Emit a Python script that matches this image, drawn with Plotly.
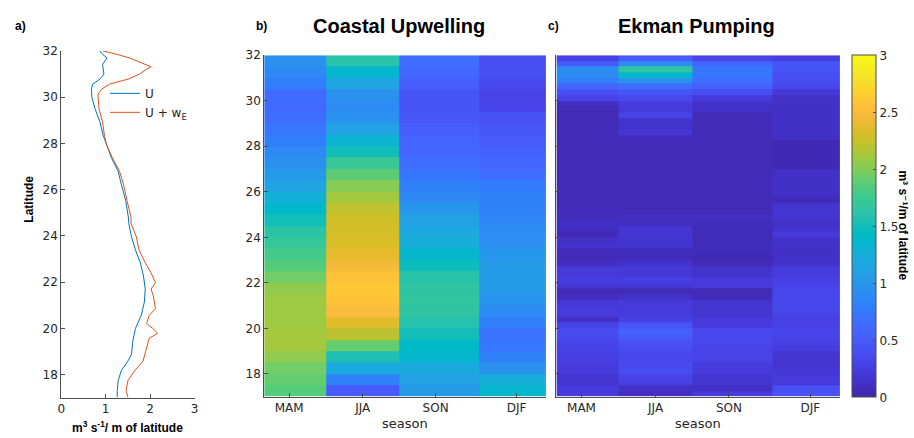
import plotly.graph_objects as go

# ---------------- data ----------------
seasons = ["MAM", "JJA", "SON", "DJF"]

# Panel a: annual mean transports
lat_u = [17.03, 17.31, 17.74, 18.17, 18.59, 18.87, 19.45, 20.00, 20.57, 21.14, 21.70, 22.27,
         22.84, 23.40, 23.97, 24.54, 24.82, 25.53, 26.24, 26.80, 27.38, 27.94, 28.37, 28.94,
         29.50, 30.00, 30.35, 30.57, 30.78, 31.00, 31.20, 31.42, 31.56, 31.70, 31.84, 32.00]
u_vals = [1.26, 1.26, 1.28, 1.35, 1.50, 1.58, 1.61, 1.67, 1.80, 1.87, 1.89, 1.85,
          1.78, 1.67, 1.58, 1.52, 1.51, 1.45, 1.35, 1.28, 1.13, 1.02, 0.94, 0.87,
          0.76, 0.69, 0.68, 0.71, 0.87, 0.96, 0.94, 0.93, 0.98, 1.03, 0.94, 0.87]

lat_uw = [17.03, 17.31, 17.74, 18.17, 18.59, 19.15, 19.58, 19.79, 20.00, 20.21, 20.57, 20.85,
          21.42, 21.70, 21.98, 22.41, 22.84, 23.40, 23.97, 24.54, 24.82, 25.53, 26.24, 26.80,
          27.38, 27.94, 28.37, 28.94, 29.50, 30.00, 30.14, 30.35, 30.57, 30.78, 31.00, 31.20,
          31.32, 31.49, 31.56, 31.70, 31.84, 32.00]
uw_vals = [1.50, 1.46, 1.50, 1.65, 1.84, 1.92, 1.98, 2.17, 2.06, 1.92, 1.98, 2.12,
           2.07, 2.02, 2.12, 2.02, 1.89, 1.75, 1.69, 1.57, 1.57, 1.48, 1.40, 1.31,
           1.15, 1.02, 0.97, 0.93, 0.85, 0.83, 0.83, 0.91, 1.09, 1.50, 1.76, 1.91,
           2.02, 1.80, 1.72, 1.54, 1.28, 0.94]

# Panel b: coastal upwelling by season (0.5 deg rows, south -> north)
lat_cu = [17.25, 17.75, 18.25, 18.75, 19.25, 19.75, 20.25, 20.75, 21.25, 21.75,
          22.25, 22.75, 23.25, 23.75, 24.25, 24.75, 25.25, 25.75, 26.25, 26.75,
          27.25, 27.75, 28.25, 28.75, 29.25, 29.75, 30.25, 30.75, 31.25, 31.75]
cu_mam = [1.85, 1.90, 1.95, 2.05, 2.12, 2.12, 2.10, 2.10, 2.10, 2.05,
          1.95, 1.85, 1.78, 1.70, 1.62, 1.50, 1.38, 1.28, 1.15, 1.05,
          0.95, 0.88, 0.78, 0.72, 0.65, 0.62, 0.63, 0.78, 0.87, 0.95]
cu_jja = [0.50, 0.80, 1.20, 1.55, 1.90, 2.20, 2.35, 2.50, 2.57, 2.60,
          2.55, 2.45, 2.38, 2.32, 2.30, 2.28, 2.22, 2.12, 2.02, 1.88,
          1.72, 1.50, 1.32, 1.12, 0.95, 0.90, 0.95, 1.15, 1.35, 1.60]
cu_son = [1.05, 1.10, 1.20, 1.35, 1.40, 1.50, 1.58, 1.65, 1.67, 1.65,
          1.60, 1.48, 1.35, 1.25, 1.18, 1.10, 1.00, 0.88, 0.80, 0.72,
          0.65, 0.60, 0.57, 0.52, 0.47, 0.45, 0.45, 0.52, 0.60, 0.66]
cu_djf = [1.35, 1.25, 0.95, 0.80, 0.72, 0.70, 0.78, 0.90, 0.98, 1.05,
          1.05, 1.05, 1.00, 0.93, 0.90, 0.85, 0.80, 0.80, 0.75, 0.65,
          0.60, 0.55, 0.50, 0.47, 0.42, 0.32, 0.30, 0.35, 0.40, 0.40]

# Panel c: Ekman pumping by season (0.25 deg rows, south -> north)
lat_ek = [17.125, 17.375, 17.625, 17.875, 18.125, 18.375, 18.625, 18.875, 19.125, 19.375,
          19.625, 19.875, 20.125, 20.375, 20.625, 20.875, 21.125, 21.375, 21.625, 21.875,
          22.125, 22.375, 22.625, 22.875, 23.125, 23.375, 23.625, 23.875, 24.125, 24.375,
          24.625, 24.875, 25.125, 25.375, 25.625, 25.875, 26.125, 26.375, 26.625, 26.875,
          27.125, 27.375, 27.625, 27.875, 28.125, 28.375, 28.625, 28.875, 29.125, 29.375,
          29.625, 29.875, 30.125, 30.375, 30.625, 30.875, 31.125, 31.375, 31.625, 31.875]
ek_mam = [0.22, 0.22, 0.17, 0.17, 0.24, 0.24, 0.27, 0.27, 0.30, 0.32,
          0.36, 0.38, 0.30, 0.12, 0.22, 0.24, 0.20, 0.10, 0.06, 0.20,
          0.26, 0.22, 0.22, 0.10, 0.06, 0.06, 0.16, 0.12, 0.06, 0.10,
          0.12, 0.08, 0.06, 0.06, 0.06, 0.06, 0.06, 0.06, 0.06, 0.06,
          0.06, 0.06, 0.06, 0.06, 0.06, 0.06, 0.06, 0.06, 0.06, 0.06,
          0.06, 0.10, 0.30, 0.40, 0.60, 0.80, 0.90, 0.90, 0.50, 0.28]
ek_jja = [0.10, 0.12, 0.27, 0.30, 0.38, 0.36, 0.34, 0.34, 0.38, 0.42,
          0.50, 0.55, 0.45, 0.28, 0.24, 0.22, 0.22, 0.15, 0.06, 0.20,
          0.26, 0.20, 0.20, 0.15, 0.07, 0.07, 0.16, 0.16, 0.18, 0.18,
          0.10, 0.10, 0.06, 0.06, 0.06, 0.06, 0.06, 0.06, 0.06, 0.06,
          0.06, 0.06, 0.06, 0.06, 0.06, 0.08, 0.18, 0.15, 0.15, 0.30,
          0.22, 0.25, 0.35, 0.45, 0.65, 0.95, 1.35, 1.65, 0.90, 0.50]
ek_son = [0.22, 0.12, 0.17, 0.17, 0.24, 0.24, 0.30, 0.30, 0.30, 0.33,
          0.35, 0.35, 0.22, 0.22, 0.17, 0.17, 0.17, 0.08, 0.06, 0.22,
          0.22, 0.15, 0.15, 0.06, 0.04, 0.07, 0.07, 0.07, 0.07, 0.07,
          0.08, 0.10, 0.06, 0.06, 0.06, 0.06, 0.06, 0.06, 0.06, 0.06,
          0.06, 0.06, 0.06, 0.06, 0.06, 0.06, 0.06, 0.06, 0.06, 0.06,
          0.12, 0.15, 0.22, 0.38, 0.55, 0.65, 0.72, 0.72, 0.60, 0.30]
ek_djf = [0.42, 0.40, 0.22, 0.22, 0.20, 0.17, 0.17, 0.17, 0.25, 0.28,
          0.30, 0.32, 0.30, 0.28, 0.30, 0.34, 0.34, 0.34, 0.32, 0.32,
          0.28, 0.24, 0.24, 0.14, 0.12, 0.12, 0.12, 0.14, 0.22, 0.16,
          0.12, 0.17, 0.17, 0.17, 0.07, 0.12, 0.12, 0.12, 0.12, 0.12,
          0.05, 0.05, 0.05, 0.05, 0.05, 0.12, 0.12, 0.12, 0.12, 0.12,
          0.12, 0.12, 0.13, 0.20, 0.33, 0.40, 0.40, 0.45, 0.45, 0.26]

lat_ticks = [18, 20, 22, 24, 26, 28, 30, 32]
cbar_ticks = [0, 0.5, 1, 1.5, 2, 2.5, 3]

# ---------------- styling ----------------
parula_rgb = [
    (0.2422, 0.1504, 0.6603), (0.2504, 0.1650, 0.7076), (0.2578, 0.1818, 0.7511), (0.2647, 0.1978, 0.7952),
    (0.2706, 0.2147, 0.8364), (0.2751, 0.2342, 0.8710), (0.2783, 0.2559, 0.8991), (0.2803, 0.2782, 0.9221),
    (0.2813, 0.3006, 0.9414), (0.2810, 0.3228, 0.9579), (0.2795, 0.3447, 0.9717), (0.2760, 0.3667, 0.9829),
    (0.2699, 0.3892, 0.9906), (0.2602, 0.4123, 0.9952), (0.2440, 0.4358, 0.9988), (0.2206, 0.4603, 0.9973),
    (0.1963, 0.4847, 0.9892), (0.1834, 0.5074, 0.9798), (0.1786, 0.5289, 0.9682), (0.1764, 0.5499, 0.9520),
    (0.1687, 0.5703, 0.9359), (0.1540, 0.5902, 0.9218), (0.1460, 0.6091, 0.9079), (0.1380, 0.6276, 0.8973),
    (0.1248, 0.6459, 0.8883), (0.1113, 0.6635, 0.8763), (0.0952, 0.6798, 0.8598), (0.0689, 0.6948, 0.8394),
    (0.0297, 0.7082, 0.8163), (0.0036, 0.7203, 0.7917), (0.0067, 0.7312, 0.7660), (0.0433, 0.7411, 0.7394),
    (0.0964, 0.7500, 0.7120), (0.1408, 0.7584, 0.6842), (0.1717, 0.7670, 0.6554), (0.1938, 0.7758, 0.6251),
    (0.2161, 0.7843, 0.5923), (0.2470, 0.7918, 0.5567), (0.2906, 0.7973, 0.5188), (0.3406, 0.8008, 0.4789),
    (0.3909, 0.8029, 0.4354), (0.4456, 0.8024, 0.3909), (0.5044, 0.7993, 0.3480), (0.5616, 0.7942, 0.3045),
    (0.6174, 0.7876, 0.2612), (0.6720, 0.7793, 0.2227), (0.7242, 0.7698, 0.1910), (0.7738, 0.7598, 0.1646),
    (0.8203, 0.7498, 0.1535), (0.8634, 0.7406, 0.1596), (0.9035, 0.7330, 0.1774), (0.9393, 0.7288, 0.2100),
    (0.9728, 0.7298, 0.2394), (0.9956, 0.7434, 0.2371), (0.9970, 0.7659, 0.2199), (0.9952, 0.7893, 0.2028),
    (0.9892, 0.8136, 0.1885), (0.9786, 0.8386, 0.1766), (0.9676, 0.8639, 0.1643), (0.9610, 0.8890, 0.1537),
    (0.9597, 0.9135, 0.1423), (0.9628, 0.9373, 0.1265), (0.9691, 0.9606, 0.1064), (0.9769, 0.9839, 0.0805)]
n = len(parula_rgb)
parula = [[i / (n - 1), "rgb(%d,%d,%d)" % (round(r * 255), round(g * 255), round(b * 255))]
          for i, (r, g, b) in enumerate(parula_rgb)]

W, H = 914, 438
def fx(px):
    return px / W
def fy(py):
    return 1 - py / H

col_edges = [0.0, 0.2200, 0.4805, 0.7632, 1.0]
col_ticks = [0.0885, 0.3498, 0.6085, 0.8960]

FONT = "DejaVu Sans, Liberation Sans, Arial, sans-serif"
TITLEFONT = "Liberation Sans, Arial, sans-serif"
AX = "#4d4d4d"
TXT = "#262626"

z_cu = [[m, j, s, d] for m, j, s, d in zip(cu_mam, cu_jja, cu_son, cu_djf)]
z_ek = [[m, j, s, d] for m, j, s, d in zip(ek_mam, ek_jja, ek_son, ek_djf)]

fig = go.Figure()
fig.add_trace(go.Scatter(x=u_vals, y=lat_u, mode="lines", name="U",
                         line=dict(color="#0072BD", width=1), xaxis="x", yaxis="y"))
fig.add_trace(go.Scatter(x=uw_vals, y=lat_uw, mode="lines", name="U + w<sub>E</sub>",
                         line=dict(color="#D95319", width=1), xaxis="x", yaxis="y"))
fig.add_trace(go.Heatmap(x=col_edges, y=lat_cu, z=z_cu, coloraxis="coloraxis",
                         xaxis="x2", yaxis="y2", showlegend=False))
fig.add_trace(go.Heatmap(x=col_edges, y=lat_ek, z=z_ek, coloraxis="coloraxis",
                         xaxis="x3", yaxis="y3", showlegend=False))

axis_common = dict(showgrid=False, zeroline=False, showline=True, linecolor=AX, linewidth=1,
                   ticks="inside", ticklen=4, tickcolor=AX,
                   tickfont=dict(family=FONT, size=12, color=TXT))

ya_b_top, ya_b_bot = 49, 396
fig.update_layout(
    width=W, height=H,
    margin=dict(l=0, r=0, t=0, b=0),
    paper_bgcolor="white", plot_bgcolor="white",
    showlegend=True,
    legend=dict(x=fx(102), y=fy(73), xanchor="left", yanchor="top",
                bgcolor="rgba(0,0,0,0)", font=dict(family=FONT, size=12, color=TXT),
                itemwidth=30, tracegroupgap=0),
    xaxis=dict(domain=[fx(57.7), fx(192.3)], range=[0, 3], tickvals=[0, 1, 2, 3],
               anchor="y", **axis_common),
    yaxis=dict(domain=[fy(397.2), fy(44.7)], range=[17, 32], tickvals=lat_ticks,
               anchor="x", **axis_common),
    xaxis2=dict(domain=[fx(262.5), fx(546.7)], range=[0, 1], tickvals=col_ticks,
                ticktext=seasons, anchor="y2", **axis_common),
    yaxis2=dict(domain=[fy(ya_b_bot), fy(ya_b_top)], range=[17, 32], tickvals=lat_ticks,
                anchor="x2", **axis_common),
    xaxis3=dict(domain=[fx(557.3), fx(843.3)], range=[0, 1], tickvals=col_ticks,
                ticktext=seasons, anchor="y3", **axis_common),
    yaxis3=dict(domain=[fy(ya_b_bot), fy(ya_b_top)], range=[17, 32], tickvals=lat_ticks,
                showticklabels=False, anchor="x3", **axis_common),
    coloraxis=dict(colorscale=parula, cmin=0, cmax=3,
                   colorbar=dict(x=fx(855), xanchor="left", thickness=24, thicknessmode="pixels",
                                 len=(397 - 49) / H, lenmode="fraction",
                                 y=fy((397 + 49) / 2), yanchor="middle",
                                 tickvals=cbar_ticks, ticktext=["0", "0.5", "1", "1.5", "2", "2.5", "3"],
                                 ticks="inside", ticklen=3, tickcolor=AX,
                                 outlinewidth=1, outlinecolor=AX,
                                 tickfont=dict(family=FONT, size=12, color=TXT),
                                 xpad=0, ypad=0)),
)

ann = []
def add_text(text, px, py, size=12, bold=False, angle=0, family=FONT, xanchor="center"):
    ann.append(dict(text=("<b>%s</b>" % text) if bold else text, x=fx(px), y=fy(py),
                    xref="paper", yref="paper", showarrow=False, textangle=angle,
                    xanchor=xanchor, yanchor="middle", borderpad=0,
                    font=dict(family=family, size=size, color="black" if bold else TXT)))

add_text("a)", 17, 19, size=12, bold=True, family=TITLEFONT)
add_text("b)", 260, 19, size=12, bold=True, family=TITLEFONT)
add_text("c)", 554, 19, size=12, bold=True, family=TITLEFONT)
add_text("Coastal Upwelling", 398, 19, size=20, bold=True, family=TITLEFONT)
add_text("Ekman Pumping", 699, 19, size=20, bold=True, family=TITLEFONT)
add_text("Latitude", 25, 195, size=12, bold=True, angle=-90, family=TITLEFONT)
add_text("m<sup>3</sup> s<sup>-1</sup>/ m of latitude", 125, 427, size=12, bold=True, family=TITLEFONT)
add_text("season", 405, 423, size=13)
add_text("season", 700, 423, size=13)
add_text("m\u00b3 s\u207b\u00b9/m of latitude", 906, 222, size=12, bold=True, angle=90,
         family="Liberation Sans, DejaVu Sans, sans-serif")
fig.update_layout(annotations=ann)

fig.write_html("out.html")
